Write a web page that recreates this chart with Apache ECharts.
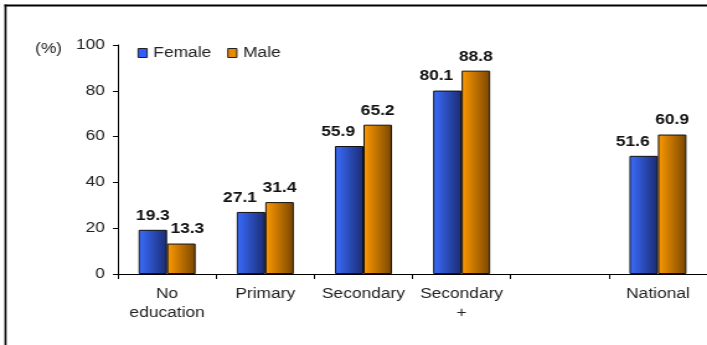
<!DOCTYPE html>
<html>
<head>
<meta charset="utf-8">
<script src="https://cdn.jsdelivr.net/npm/echarts@6/dist/echarts.min.js"></script>
<style>
  html, body { margin: 0; padding: 0; background: #fff; overflow: hidden; width: 707px; height: 345px; }
  /* the chart is laid out narrower and widened horizontally, giving the wide lettering */
  #chart { width: 570px; height: 345px; transform: scaleX(1.2404); transform-origin: 0 0; }
</style>
</head>
<body>
<div id="chart"></div>
<script>
// Education levels (one slot is left empty as a spacer before the national figure)
const categories = ['No\neducation', 'Primary', 'Secondary', 'Secondary\n+', '', 'National'];
const female = [19.3, 27.1, 55.9, 80.1, '-', 51.6];
const male = [13.3, 31.4, 65.2, 88.8, '-', 60.9];
const yTicks = [0, 20, 40, 60, 80, 100];

const FONT = 'Arial, "Liberation Sans", sans-serif';
const SX = 1.2404; // horizontal widening applied by CSS

function grad(c1, c2) {
  return new echarts.graphic.LinearGradient(0, 0, 1, 0, [
    { offset: 0, color: c1 },
    { offset: 1, color: c2 }
  ]);
}

const femaleFill = grad('#3a6dff', '#1b2b72');
const maleFill = grad('#ff9a00', '#7a4600');

const labelBase = {
  show: true,
  position: 'top',
  distance: 7,
  fontFamily: FONT,
  fontSize: 14,
  fontWeight: 'bold',
  color: '#111'
};

// value labels of neighbouring bars are nudged sideways so they do not collide
function withLabels(values, shiftFn) {
  return values.map((v, i) => {
    if (v === '-') return v;
    const dx = shiftFn(i);
    return dx ? { value: v, label: { offset: [dx / SX, 0] } } : v;
  });
}

const chart = echarts.init(document.getElementById('chart'), null, { renderer: 'canvas' });

chart.setOption({
  animation: false,
  backgroundColor: '#fff',
  textStyle: { fontFamily: FONT },
  graphic: [
    // outer frame: left and top edges
    { type: 'line', shape: { x1: 5.5 / SX, y1: 4.5, x2: 5.5 / SX, y2: 345 },
      style: { stroke: '#000', lineWidth: 2 / SX } },
    { type: 'line', shape: { x1: 4.5 / SX, y1: 5.5, x2: 580, y2: 5.5 },
      style: { stroke: '#000', lineWidth: 2 } },
    { type: 'text', left: 35 / SX, top: 42,
      style: { text: '(%)', font: '14px ' + FONT, fill: '#222' } }
  ],
  legend: {
    left: 137.5 / SX, top: 46,
    padding: 0,
    icon: 'rect',
    itemWidth: 9 / SX, itemHeight: 9, itemGap: 16 / SX,
    textStyle: { fontFamily: FONT, fontSize: 14, color: '#222' },
    data: [
      { name: 'Female', itemStyle: { color: '#2f5bff', borderColor: '#222', borderWidth: 1 } },
      { name: 'Male', itemStyle: { color: '#e68a00', borderColor: '#222', borderWidth: 1 } }
    ]
  },
  grid: { left: 118 / SX, top: 45, right: -1.6, bottom: 71, containLabel: false },
  xAxis: {
    type: 'category',
    data: categories,
    axisLine: { lineStyle: { color: '#000', width: 1 } },
    axisTick: { show: true, length: 5, lineStyle: { color: '#000' } },
    axisLabel: { fontFamily: FONT, fontSize: 14, color: '#222', margin: 11, lineHeight: 19, interval: 0 }
  },
  yAxis: {
    type: 'value',
    min: yTicks[0], max: yTicks[yTicks.length - 1], interval: 20,
    axisLine: { show: true, lineStyle: { color: '#000', width: 1 } },
    axisTick: { show: true, length: 4, lineStyle: { color: '#000' } },
    splitLine: { show: false },
    axisLabel: { fontFamily: FONT, fontSize: 14, color: '#222', margin: 10.5 }
  },
  series: [
    {
      name: 'Female', type: 'bar',
      data: withLabels(female, i => (i === 0 ? 0 : -11)),
      barWidth: 28.5 / SX, barGap: '0%',
      itemStyle: { color: femaleFill, borderColor: '#111', borderWidth: 1 },
      label: labelBase
    },
    {
      name: 'Male', type: 'bar',
      data: withLabels(male, i => (i === 0 ? 6 : 0)),
      barWidth: 28.5 / SX, barGap: '0%',
      itemStyle: { color: maleFill, borderColor: '#111', borderWidth: 1 },
      label: labelBase
    }
  ]
});
</script>
</body>
</html>
